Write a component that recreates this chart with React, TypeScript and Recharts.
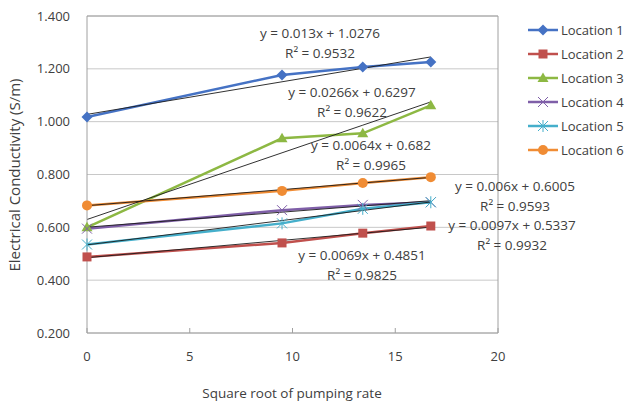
import React from "react"
import { LineChart, Line, XAxis, YAxis, CartesianGrid, ReferenceLine } from "recharts"

// x positions = sqrt of pumping rate (0, 90, 180, 280)
const xValues = [0, 9.49, 13.42, 16.73]

const loc1 = [1.018, 1.177, 1.207, 1.226]
const loc2 = [0.488, 0.541, 0.578, 0.605]
const loc3 = [0.6, 0.937, 0.956, 1.062]
const loc4 = [0.595, 0.665, 0.685, 0.695]
const loc5 = [0.535, 0.615, 0.67, 0.695]
const loc6 = [0.683, 0.738, 0.768, 0.79]

// trendline equations as printed on the chart
const slopes = [0.013, 0.0069, 0.0266, 0.006, 0.0097, 0.0064]
const intercepts = [1.0276, 0.4851, 0.6297, 0.6005, 0.5337, 0.682]
const r2 = ["0.9532", "0.9825", "0.9622", "0.9593", "0.9932", "0.9965"]

const names = ["Location 1", "Location 2", "Location 3", "Location 4", "Location 5", "Location 6"]
const colors = ["#4572C4", "#C0504D", "#8DB843", "#7F5FA8", "#45AFCB", "#F08C34"]
const shapes = ["diamond", "square", "triangle", "x", "star", "circle"]

const yTicks = [0.2, 0.4, 0.6, 0.8, 1.0, 1.2, 1.4]
const xTicks = [0, 5, 10, 15, 20]

const seriesValues = [loc1, loc2, loc3, loc4, loc5, loc6]

const rows = xValues.map((x, i) => {
  const row: Record<string, number> = { x }
  seriesValues.forEach((s, k) => {
    row["s" + k] = s[i]
    row["t" + k] = slopes[k] * x + intercepts[k]
  })
  return row
})

// where the equation labels sit (pixels, label centres)
const eqPos = [
  [320, 33],
  [362, 255],
  [352, 92],
  [515, 186],
  [512, 225],
  [371, 145],
]

const FONT = "'Open Sans', sans-serif"
const TEXT = "#404040"

function Marker({ shape, cx, cy, color }: { shape: string; cx: number; cy: number; color: string }) {
  if (shape === "diamond")
    return <polygon points={`${cx},${cy - 5.5} ${cx + 5.5},${cy} ${cx},${cy + 5.5} ${cx - 5.5},${cy}`} fill={color} />
  if (shape === "square") return <rect x={cx - 4.5} y={cy - 4.5} width={9} height={9} fill={color} />
  if (shape === "triangle")
    return <polygon points={`${cx},${cy - 5.5} ${cx + 5.5},${cy + 4} ${cx - 5.5},${cy + 4}`} fill={color} />
  if (shape === "circle") return <circle cx={cx} cy={cy} r={5} fill={color} />
  if (shape === "x")
    return (
      <g stroke={color} strokeWidth={1}>
        <line x1={cx - 5} y1={cy - 5} x2={cx + 5} y2={cy + 5} />
        <line x1={cx - 5} y1={cy + 5} x2={cx + 5} y2={cy - 5} />
      </g>
    )
  return (
    <g stroke={color} strokeWidth={1}>
      <line x1={cx - 5} y1={cy - 5} x2={cx + 5} y2={cy + 5} />
      <line x1={cx - 5} y1={cy + 5} x2={cx + 5} y2={cy - 5} />
      <line x1={cx} y1={cy - 6} x2={cx} y2={cy + 6} />
    </g>
  )
}

export default function App() {
  return (
    <div style={{ position: "absolute", left: 0, top: 0, width: 624, height: 403, background: "#fff", fontFamily: FONT }}>
      <LineChart width={624} height={403} data={rows} margin={{ top: 16, right: 126, bottom: 0, left: 0 }}>
        <CartesianGrid horizontal vertical={false} stroke="#c8c8c8" />
        <XAxis
          dataKey="x"
          type="number"
          domain={[0, 20]}
          ticks={xTicks}
          height={70}
          stroke="#a0a0a0"
          tickSize={-5}
          tickMargin={24}
          tick={{ fill: TEXT, fontSize: 13, fontFamily: FONT }}
        />
        <YAxis
          type="number"
          domain={[0.2, 1.4]}
          ticks={yTicks}
          width={87}
          stroke="#a0a0a0"
          tickLine={false}
          tickMargin={11}
          tickFormatter={(v) => Number(v).toFixed(3)}
          tick={{ fill: TEXT, fontSize: 13, fontFamily: FONT }}
        />
        <ReferenceLine x={20} stroke="#a0a0a0" />
        <ReferenceLine y={1.4} stroke="#a0a0a0" />
        {names.map((n, k) => (
          <Line
            key={n}
            dataKey={"s" + k}
            name={n}
            type="linear"
            stroke={colors[k]}
            strokeWidth={2.5}
            isAnimationActive={false}
            dot={(p: any) => <Marker key={p.index} shape={shapes[k]} cx={p.cx} cy={p.cy} color={colors[k]} />}
            activeDot={false}
          />
        ))}
        {names.map((n, k) => (
          <Line
            key={"t" + n}
            dataKey={"t" + k}
            type="linear"
            stroke="#1a1a1a"
            strokeWidth={0.9}
            dot={false}
            activeDot={false}
            isAnimationActive={false}
            legendType="none"
          />
        ))}
      </LineChart>
      <svg width={624} height={403} style={{ position: "absolute", left: 0, top: 0, pointerEvents: "none" }}>
        <g fontFamily={FONT} fontSize={13.5} fill={TEXT} textAnchor="middle">
          {eqPos.map(([x, y], k) => (
            <g key={k}>
              <text x={x} y={y + 5}>{`y = ${slopes[k]}x + ${intercepts[k]}`}</text>
              <text x={x} y={y + 25}>{`R² = ${r2[k]}`}</text>
            </g>
          ))}
        </g>
        <text
          x={20}
          y={175}
          transform="rotate(-90 20 175)"
          textAnchor="middle"
          fontFamily={FONT}
          fontSize={15}
          fill={TEXT}
        >
          Electrical Conductivity (S/m)
        </text>
        <text x={292} y={398} textAnchor="middle" fontFamily={FONT} fontSize={13.5} fill={TEXT}>
          Square root of pumping rate
        </text>
        {names.map((n, k) => {
          const y = 30 + k * 24
          return (
            <g key={n}>
              <line x1={528} x2={558} y1={y} y2={y} stroke={colors[k]} strokeWidth={2.5} />
              <Marker shape={shapes[k]} cx={543} cy={y} color={colors[k]} />
              <text x={561} y={y + 4.5} fontFamily={FONT} fontSize={13} fill={TEXT}>
                {n}
              </text>
            </g>
          )
        })}
      </svg>
    </div>
  )
}
